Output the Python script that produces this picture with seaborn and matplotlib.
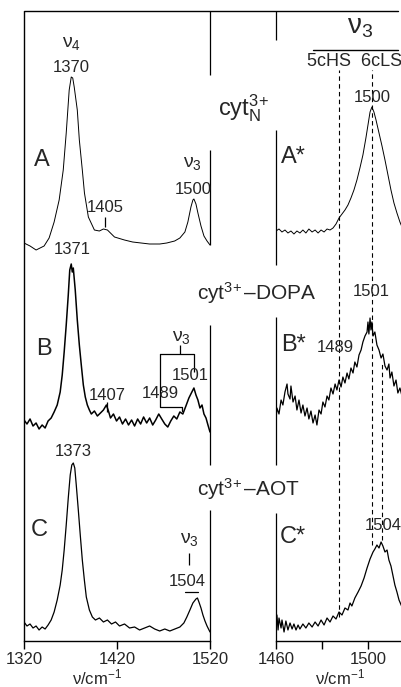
import numpy as np
import pandas as pd
import matplotlib.pyplot as plt
import seaborn as sns
from matplotlib.lines import Line2D

sns.set_theme(style="white")
plt.rcParams['font.family'] = ['Liberation Sans', 'DejaVu Sans']
plt.rcParams['mathtext.fontset'] = 'custom'
plt.rcParams['mathtext.rm'] = 'Liberation Sans'
plt.rcParams['mathtext.it'] = 'Liberation Sans:italic'
plt.rcParams['mathtext.default'] = 'regular'

# --- left panel, 1320-1520 cm-1 (wavenumber, intensity above baseline) ---
wn_a = [1320.0, 1326.5, 1333.0, 1341.6, 1347.0, 1352.4, 1357.8, 1362.2, 1365.4, 1368.6,
        1370.8, 1372.4, 1374.0, 1377.3, 1379.5, 1382.7, 1385.0, 1389.2, 1395.7, 1401.0,
        1405.4, 1409.7, 1417.3, 1428.0, 1436.8, 1455.0, 1466.0, 1473.5, 1482.0, 1487.6,
        1493.0, 1496.2, 1499.5, 1501.6, 1502.7, 1504.9, 1507.0, 1510.3, 1513.5, 1516.8, 1520.0]
int_a = [0, -3, -7, -3, 5, 21, 43, 73, 110, 153,
         166, 165, 156, 133, 103, 73, 50, 26, 13, 12,
         14, 13, 6, 3, 1, -1, -1, 0, 2, 5,
         11, 21, 36, 43, 44, 39, 30, 17, 7, 2, -2]

wn_b = [1320.0, 1323.2, 1326.5, 1329.7, 1333.0, 1336.2, 1339.5, 1342.7, 1345.9, 1349.2,
        1352.4, 1355.7, 1358.9, 1361.1, 1363.2, 1365.4, 1367.6, 1369.2, 1370.8, 1371.9,
        1373.0, 1375.1, 1377.3, 1379.5, 1381.6, 1383.8, 1385.9, 1388.1, 1390.3, 1392.4,
        1395.7, 1398.9, 1402.2, 1405.4, 1408.6, 1410.8, 1413.0, 1416.2, 1419.5, 1422.7,
        1425.9, 1429.2, 1432.4, 1435.7, 1438.9, 1442.2, 1445.4, 1448.6, 1451.9, 1455.1,
        1458.4, 1461.6, 1464.9, 1468.1, 1471.4, 1474.6, 1477.8, 1481.1, 1484.3, 1487.6,
        1490.8, 1494.1, 1497.3, 1500.5, 1502.7, 1504.9, 1507.0, 1509.2, 1511.4, 1513.5,
        1515.7, 1517.8, 1520.0]
int_b = [0, -4, 1, -6, -3, -9, -5, -8, -1, 2,
         8, 15, 28, 45, 68, 95, 125, 150, 156, 148,
         152, 130, 100, 75, 55, 35, 23, 15, 10, 6,
         9, 4, 7, 10, 15, 9, 2, 6, -1, 3,
         -4, 1, -5, 0, -6, 1, -4, 3, -3, 2,
         -5, 0, 6, 1, -4, -7, -1, 4, 1, 8,
         6, 14, 22, 28, 32, 25, 20, 12, 15, 6,
         2, -5, -12]

wn_c = [1320.0, 1323.2, 1326.5, 1329.7, 1333.0, 1336.2, 1339.5, 1342.7, 1345.9, 1349.2,
        1352.4, 1355.7, 1358.9, 1361.1, 1363.2, 1365.4, 1367.6, 1369.7, 1371.4, 1373.0,
        1374.6, 1376.2, 1378.4, 1380.5, 1382.7, 1384.9, 1387.0, 1390.3, 1393.5, 1396.8,
        1401.1, 1405.4, 1409.7, 1414.1, 1418.4, 1422.7, 1428.1, 1433.5, 1438.9, 1444.3,
        1449.7, 1455.1, 1460.5, 1465.9, 1471.4, 1476.8, 1482.2, 1487.6, 1491.9, 1495.1,
        1498.4, 1501.6, 1504.9, 1506.5, 1508.1, 1510.3, 1512.4, 1514.6, 1516.8, 1520.0]
int_c = [8, 4, 6, 2, 4, 0, 3, 1, 5, 10,
         18, 30, 45, 60, 80, 105, 132, 155, 165, 167,
         162, 145, 120, 95, 70, 50, 33, 20, 13, 10,
         12, 8, 10, 6, 8, 4, 6, 2, 3, 0,
         2, 4, 1, -1, 1, -1, 1, 3, 7, 13,
         20, 27, 31, 32, 28, 22, 15, 9, 4, -2]

# --- right panel, nu3 region ---
wn_as = [1460.0, 1461.3, 1462.6, 1463.9, 1465.2, 1466.5, 1467.8, 1469.1, 1470.4, 1471.7,
         1473.0, 1474.3, 1475.7, 1477.0, 1478.3, 1479.6, 1480.9, 1482.2, 1483.5, 1484.8,
         1486.1, 1487.4, 1488.7, 1490.0, 1491.3, 1492.6, 1493.9, 1495.2, 1496.5, 1497.8,
         1499.1, 1500.0, 1500.9, 1501.7, 1502.6, 1503.5, 1504.8, 1506.1, 1507.4, 1508.7,
         1510.0, 1511.3, 1512.6, 1513.9, 1514.8]
int_as = [0, 2, -1, 1, -2, 0, -3, 0, -2, 1,
          -2, 2, -1, 1, -2, 1, -1, 2, 1, 3,
          7, 13, 17, 21, 26, 33, 41, 51, 63, 76,
          93, 106, 119, 124, 119, 111, 98, 85, 71, 56,
          41, 28, 18, 9, 4]

wn_bs = [1460.0, 1460.4, 1461.3, 1462.2, 1463.0, 1463.9, 1464.8, 1465.2, 1466.1, 1466.5,
         1467.4, 1468.3, 1469.1, 1470.0, 1470.9, 1471.7, 1472.6, 1473.5, 1474.3, 1475.2,
         1476.1, 1477.0, 1477.8, 1478.7, 1479.6, 1480.4, 1481.3, 1482.2, 1483.0, 1483.9,
         1484.8, 1485.7, 1486.5, 1487.4, 1488.3, 1489.1, 1490.0, 1490.9, 1491.7, 1492.6,
         1493.5, 1494.3, 1495.2, 1496.1, 1497.0, 1497.8, 1498.7, 1499.6, 1500.0, 1500.4,
         1500.9, 1501.3, 1501.7, 1502.2, 1503.0, 1503.9, 1504.8, 1505.7, 1506.5, 1507.4,
         1508.3, 1509.1, 1509.6, 1510.4, 1511.3, 1512.2, 1513.0, 1513.9, 1514.8]
int_bs = [0, 12, 6, 20, 15, 28, 36, 26, 21, 34,
          18, 24, 10, 20, 7, 15, 4, 12, 1, 9,
          -3, 5, -5, 10, 6, 18, 13, 24, 20, 32,
          26, 36, 30, 40, 33, 43, 37, 47, 41, 52,
          47, 58, 53, 65, 70, 78, 84, 88, 98, 86,
          102, 90, 98, 84, 88, 75, 70, 62, 66, 54,
          50, 56, 42, 48, 34, 40, 27, 32, 24]

wn_cs = [1460.0, 1460.4, 1460.9, 1461.3, 1462.2, 1462.6, 1463.5, 1464.3, 1465.2, 1466.1,
         1467.0, 1467.8, 1468.7, 1469.6, 1470.4, 1471.7, 1473.0, 1474.3, 1475.7, 1477.0,
         1478.3, 1479.6, 1480.9, 1482.2, 1483.5, 1484.8, 1486.1, 1487.4, 1488.7, 1490.0,
         1491.3, 1492.2, 1493.0, 1494.3, 1495.7, 1497.0, 1498.3, 1499.6, 1500.9, 1502.2,
         1503.0, 1503.9, 1504.8, 1505.7, 1506.5, 1507.4, 1508.3, 1509.1, 1510.0, 1510.9,
         1511.7, 1512.6, 1513.5, 1514.8]
int_cs = [2, 12, -3, 9, -1, 7, -5, 6, -3, 4,
          -2, 3, -3, 2, -2, 3, -1, 4, 0, 5,
          1, 7, 2, 9, 5, 11, 8, 15, 12, 19,
          17, 24, 21, 29, 35, 41, 49, 59, 68, 75,
          78, 82, 79, 85, 81, 75, 77, 67, 61, 51,
          42, 35, 27, 20]

# vertical stacking of the traces
offsets = {"A": 398, "B": 221, "C": 11, "A*": 410, "B*": 221, "C*": 14}

W, H = 402, 687
fig = plt.figure(figsize=(W / 100, H / 100), dpi=100)
ax1 = fig.add_axes([24 / W, 46 / H, 186 / W, 630 / H])
ax2 = fig.add_axes([276 / W, 46 / H, 126 / W, 630 / H])

traces = [(ax1, wn_a, int_a, "A", 0.7), (ax1, wn_b, int_b, "B", 1.1), (ax1, wn_c, int_c, "C", 0.9),
          (ax2, wn_as, int_as, "A*", 0.7), (ax2, wn_bs, int_bs, "B*", 0.9), (ax2, wn_cs, int_cs, "C*", 0.9)]
for ax, wn, inten, key, lw in traces:
    df = pd.DataFrame({"wn": wn, "I": np.array(inten) + offsets[key]})
    sns.lineplot(data=df, x="wn", y="I", ax=ax, color="black", lw=lw, sort=False, estimator=None)

for ax in (ax1, ax2):
    ax.set_ylim(0, 630)
    ax.set_yticks([])
    ax.set_ylabel("")
    for s in ax.spines.values():
        s.set_visible(False)
    ax.spines["bottom"].set_visible(True)
    ax.spines["bottom"].set_linewidth(1.0)
    ax.spines["bottom"].set_color("black")
    ax.tick_params(axis="x", direction="out", length=6, width=1, pad=2, labelsize=12,
                   bottom=True, color="black")
    ax.patch.set_alpha(0)

ax1.set_xlim(1320, 1520)
ax1.set_xticks([1320, 1420, 1520])
ax2.set_xlim(1460, 1514.8)
ax2.set_xticks([1460, 1480, 1500])
ax2.set_xticklabels(["1460", "", "1500"])

ax1.set_xlabel(r"$\nu$/cm$^{-1}$", fontsize=12)
ax2.set_xlabel(r"$\nu$/cm$^{-1}$", fontsize=12)
ax1.xaxis.set_label_coords(0.392, -0.042)
ax2.xaxis.set_label_coords(0.508, -0.042)

# frame pieces (broken where the labels pass)
ax1.vlines(1320, 0, 630, color="black", lw=1.0, clip_on=False)
for y0, y1 in [(566, 630), (396, 491), (176, 316), (0, 131)]:
    ax1.vlines(1520, y0, y1, color="black", lw=0.9, clip_on=False)
for y0, y1 in [(601, 630), (376, 511), (176, 324), (0, 128)]:
    ax2.vlines(1460, y0, y1, color="black", lw=0.9, clip_on=False)
fig.add_artist(Line2D([24 / W, 398 / W], [1 - 11 / H, 1 - 11 / H], color="black", lw=1.0))

# trace letters
for ax, x, y, t in [(ax1, 1339.5, 481, "A"), (ax1, 1341.6, 292, "B"), (ax1, 1336.2, 111, "C"),
                    (ax2, 1467.4, 484, "A*"), (ax2, 1467.4, 296, "B*"), (ax2, 1467.4, 104, "C*")]:
    ax.text(x, y, t, fontsize=17, ha="center", va="center")

# peak labels, left panel
lab = dict(fontsize=12, ha="center", va="center")
ax1.text(1370.8, 598, r"$\nu_4$", fontsize=14, ha="center", va="center")
ax1.text(1370.8, 574, "1370", **lab)
ax1.text(1407.6, 433, "1405", **lab)
ax1.vlines(1407.6, 414, 424, color="black", lw=0.9)
ax1.text(1501.6, 478, r"$\nu_3$", fontsize=14, ha="center", va="center")
ax1.text(1501.6, 451, "1500", **lab)

ax1.text(1371.9, 391, "1371", **lab)
ax1.text(1409.7, 246, "1407", **lab)
ax1.vlines(1409.7, 229, 239, color="black", lw=0.9)
ax1.text(1467.0, 247, "1489", **lab)
ax1.text(1498.4, 265, "1501", **lab)
ax1.text(1489.7, 304, r"$\nu_3$", fontsize=14, ha="center", va="center")
ax1.plot([1465.9, 1502.7], [287, 287], color="black", lw=0.9)
ax1.plot([1465.9, 1465.9, 1489.7, 1489.7], [287, 234, 234, 230], color="black", lw=0.9)
ax1.vlines(1502.7, 269, 287, color="black", lw=0.9)
ax1.vlines(1487.6, 287, 296, color="black", lw=0.9)

ax1.text(1373.0, 189, "1373", **lab)
ax1.text(1498.4, 101, r"$\nu_3$", fontsize=14, ha="center", va="center")
ax1.vlines(1497.3, 76, 88, color="black", lw=0.9)
ax1.text(1495.1, 60, "1504", **lab)
ax1.plot([1493.0, 1507.0], [49, 49], color="black", lw=0.9)

# right panel labels and marker lines
ax2.text(1501.7, 544, "1500", **lab)
ax2.text(1501.3, 350, "1501", **lab)
ax2.text(1485.7, 294, "1489", **lab)
ax2.text(1514.6, 116, "1504", fontsize=12, ha="right", va="center", clip_on=False)
dash = dict(color="black", lw=0.8, linestyles=(0, (4, 3)))
ax2.vlines(1487.6, 24, 571, **dash)
ax2.vlines(1501.9, 96, 571, **dash)
ax2.vlines(1506.0, 101, 278, **dash)
ax2.text(1496.5, 614, r"$\nu_3$", fontsize=20, ha="center", va="center", clip_on=False)
ax2.plot([1476.1, 1513.0], [591, 591], color="black", lw=1.0, clip_on=False)
ax2.text(1494.3, 579, "5cHS  6cLS", fontsize=13, ha="center", va="center", clip_on=False)

# sample names
fig.text(218 / W, 1 - 115 / H, r"cyt$^{3\!+}_{N}$", fontsize=17, ha="left", va="baseline")
fig.text(197 / W, 1 - 300 / H, r"cyt$^{3\!+}$–DOPA", fontsize=15, ha="left", va="baseline")
fig.text(197 / W, 1 - 496 / H, r"cyt$^{3\!+}$–AOT", fontsize=15, ha="left", va="baseline")

fig.savefig("out.png", dpi=100, facecolor="white")
